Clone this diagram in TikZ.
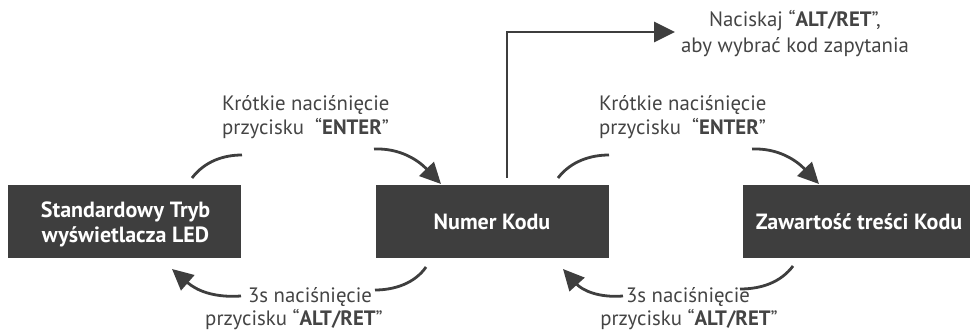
\documentclass[tikz,border=0pt]{standalone}
\usepackage{fontspec}
\setmainfont{PT Sans}
\usetikzlibrary{arrows.meta}
\definecolor{dk}{HTML}{3E3E3E}
\definecolor{tx}{HTML}{444444}
\begin{document}
\begin{tikzpicture}[x=1pt,y=-1pt,
  box/.style={fill=dk,inner sep=0pt,minimum height=73pt},
  btxt/.style={text=white,font=\fontsize{22}{26}\selectfont\bfseries,inner sep=0pt,anchor=base},
  lbl/.style={text=tx,font=\fontsize{20.8}{25}\selectfont,inner sep=0pt,anchor=base},
  conn/.style={draw=dk,line width=2.8pt},
  tip/.style={-{Triangle[length=21pt,width=20pt]}}]
\useasboundingbox (0,0) rectangle (970,331);
% boxes
\node[box,minimum width=233pt] (b1) at (124.5,221.5) {};
\node[box,minimum width=233pt] (b2) at (492.5,221.5) {};
\node[box,minimum width=227pt] (b3) at (856.5,221.5) {};
\node[btxt] (t1a) at (125.5,218) {Standardowy Tryb};
\node[btxt] (t1b) at (125.5,242.5) {wyświetlacza LED};
\node[btxt] (t2) at (492,229.5) {Numer Kodu};
\node[btxt] (t3) at (859,229.5) {Zawartość treści Kodu};

% labels
\node[lbl,anchor=base west] (l1a) at (222,111) {Krótkie naciśnięcie};
\node[lbl,anchor=base west] (l1b) at (222,135) {przycisku \ “\textbf{ENTER}”};
\node[lbl,anchor=base west] (l2a) at (599,111) {Krótkie naciśnięcie};
\node[lbl,anchor=base west] (l2b) at (599,135) {przycisku \ “\textbf{ENTER}”};
\node[lbl] (l3a) at (310,303) {3s naciśnięcie};
\node[lbl] (l3b) at (294,326) {przycisku “\textbf{ALT/RET}”};
\node[lbl] (l4a) at (688,302) {3s naciśnięcie};
\node[lbl] (l4b) at (689,325.5) {przycisku “\textbf{ALT/RET}”};
\node[lbl] (l5a) at (795,27) {Naciskaj “\textbf{ALT/RET}”,};
\node[lbl] (l5b) at (795,53) {aby wybrać kod zapytania};

% top connector
\coordinate (c0) at (507,178);
\coordinate (c1) at (675,32);
\draw[conn,tip] (c0) |- (c1);

% left pair
\coordinate (a1) at (192,178); \coordinate (a2) at (242,155);
\draw[conn] (a1) .. controls (205,161) and (224,155) .. (a2);
\coordinate (a3) at (374,149); \coordinate (a4) at (441,184);
\draw[conn,tip] (a3) .. controls (400,148) and (418,160) .. (a4);
\coordinate (a5) at (426,267); \coordinate (a6) at (375,290);
\draw[conn] (a5) .. controls (415,283) and (395,290) .. (a6);
\coordinate (a7) at (241,296); \coordinate (a8) at (172,269);
\draw[conn,tip] (a7) .. controls (213,298) and (196,290) .. (a8);

% right pair
\coordinate (r1) at (558,178); \coordinate (r2) at (609,155);
\draw[conn] (r1) .. controls (571,161) and (591,155) .. (r2);
\coordinate (r3) at (752,149); \coordinate (r4) at (819,184);
\draw[conn,tip] (r3) .. controls (778,148) and (796,160) .. (r4);
\coordinate (r5) at (793,266); \coordinate (r6) at (740,289);
\draw[conn] (r5) .. controls (781,282) and (762,289) .. (r6);
\coordinate (r7) at (623,296); \coordinate (r8) at (563,269);
\draw[conn,tip] (r7) .. controls (598,298) and (582,290) .. (r8);
\end{tikzpicture}
\end{document}
